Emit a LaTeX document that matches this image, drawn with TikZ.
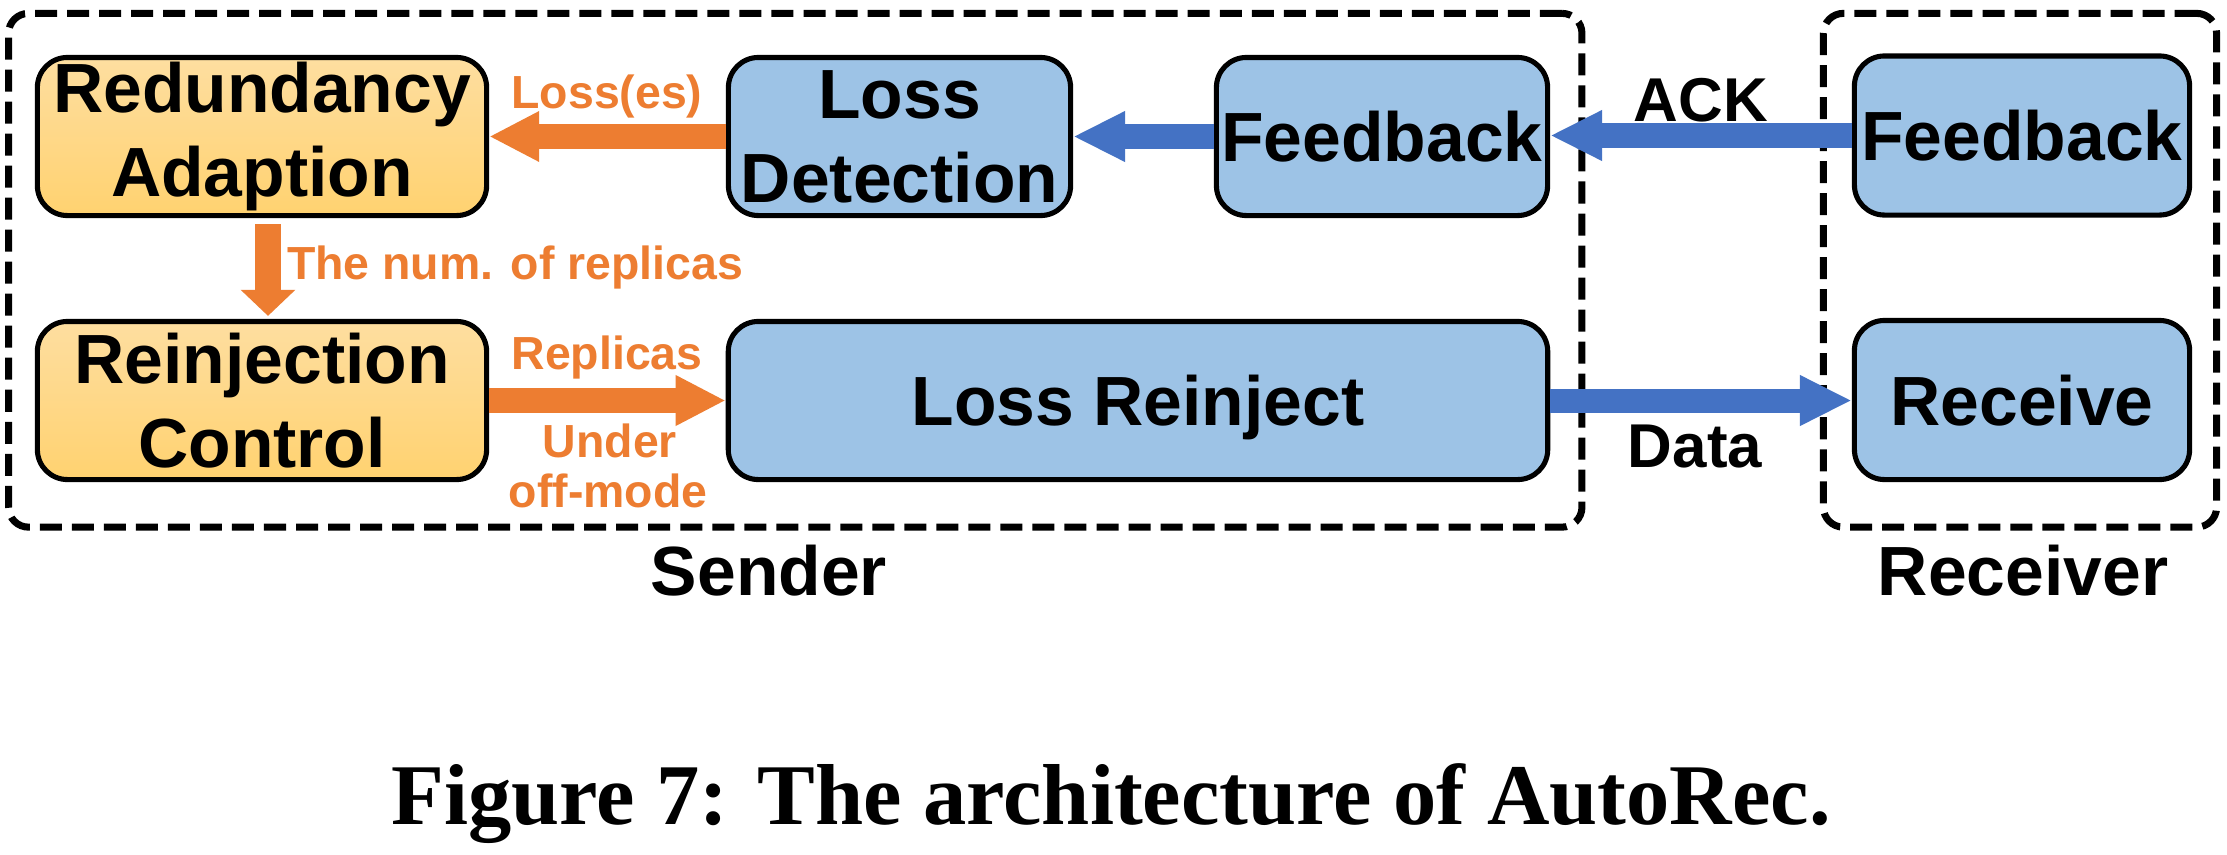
\documentclass[tikz,border=0pt]{standalone}
\usepackage{fontspec}
\newfontfamily\sansb{Liberation Sans}
\newfontfamily\serifb{Liberation Serif}
\usetikzlibrary{arrows.meta}
\definecolor{orA}{RGB}{237,125,49}
\definecolor{blA}{RGB}{68,114,196}
\definecolor{blF}{RGB}{157,195,230}
\definecolor{orT}{RGB}{254,222,160}
\definecolor{orB}{RGB}{255,210,112}
\begin{document}
\begin{tikzpicture}[x=0.01cm,y=-0.01cm,
  box/.style={draw=black, line width=1.45pt, rounded corners=0.3cm, inner sep=0pt, align=center,
    minimum height=1.58cm, font=\sansb\bfseries\fontsize{19.8}{23.9}\selectfont},
  bluebox/.style={box, fill=blF},
  orbox/.style={box, top color=orT, bottom color=orB, draw=black},
  grp/.style={draw=black, line width=2pt, dash pattern=on 0.22cm off 0.1cm,
    rounded corners=0.2cm, inner sep=0pt, minimum height=5.135cm},
  orlbl/.style={anchor=base, inner sep=0pt, text=orA, font=\sansb\bfseries\fontsize{13.2}{15}\selectfont},
  msglbl/.style={anchor=base, inner sep=0pt, font=\sansb\bfseries\fontsize{17.6}{20}\selectfont},
  grplbl/.style={anchor=base, inner sep=0pt, font=\sansb\bfseries\fontsize{19.8}{23.9}\selectfont},
  orarrow/.style={draw=orA, line width=0.25cm, -{Triangle[length=0.5cm,width=0.47cm]}},
  orarrowv/.style={draw=orA, line width=0.25cm, -{Triangle[length=0.26cm,width=0.53cm]}},
  blarrow/.style={draw=blA, line width=0.24cm, -{Triangle[length=0.52cm,width=0.47cm]}}
]
\fill[white] (0,0) rectangle (2227,854);
\useasboundingbox (0,0) rectangle (2227,854);

% groups
\node[grp, minimum width=15.725cm] (sender) at (795.25,270.25) {};
\node[grp, minimum width=3.93cm] (receiver) at (2020,270.25) {};

% boxes
\node[orbox, minimum width=4.49cm] (ra) at (262,136.5) {Redundancy\\Adaption};
\node[orbox, minimum width=4.49cm] (rc) at (262,400.5) {Reinjection\\Control};
\node[bluebox, minimum width=3.42cm] (ld) at (899.5,136.5) {Loss\\Detection};
\node[bluebox, minimum width=3.31cm, text depth=0pt] (fbs) at (1382,136.5) {Feedback};
\node[bluebox, minimum width=8.19cm, text depth=0pt] (lr) at (1138,400.5) {Loss Reinject};
\node[bluebox, minimum width=3.35cm, minimum height=1.59cm, text depth=0pt] (fbr) at (2022,135.5) {Feedback};
\node[bluebox, minimum width=3.35cm, minimum height=1.59cm, text depth=0pt] (rcv) at (2022,400) {Receive};

% connectors
\draw[orarrow] (ld.west) -- (ra.east);
\draw[blarrow] (fbs.west) -- (ld.east);
\draw[blarrow] (fbr.west) -- (fbr.west -| fbs.east);
\draw[orarrow] (rc.east) -- (lr.west);
\draw[blarrow] (lr.east) -- (lr.east -| rcv.west);
\draw[orarrowv, shorten <=0.06cm, shorten >=0.03cm] ([xshift=0.06cm]ra.south) -- ([xshift=0.06cm]rc.north);

% labels
\node[orlbl] (lloss) at (607,108) {Loss(es)};
\node[orlbl] (lnum) at (515,279) {The num. of replicas};
\node[orlbl] (lrep) at (607,369) {Replicas};
\node[orlbl] (lunder) at (610,457) {Under};
\node[orlbl] (loff) at (608,507) {off-mode};
\node[msglbl] (lack) at (1701,121) {ACK};
\node[msglbl] (ldata) at (1695,467) {Data};
\node[grplbl] (lsender) at (769,595) {Sender};
\node[grplbl] (lreceiver) at (2023,595) {Receiver};
\node[anchor=base, inner sep=0pt, font=\serifb\bfseries\fontsize{24.6}{28}\selectfont] (cap) at (1111,824) {Figure 7: The architecture of AutoRec.};
\end{tikzpicture}
\end{document}
